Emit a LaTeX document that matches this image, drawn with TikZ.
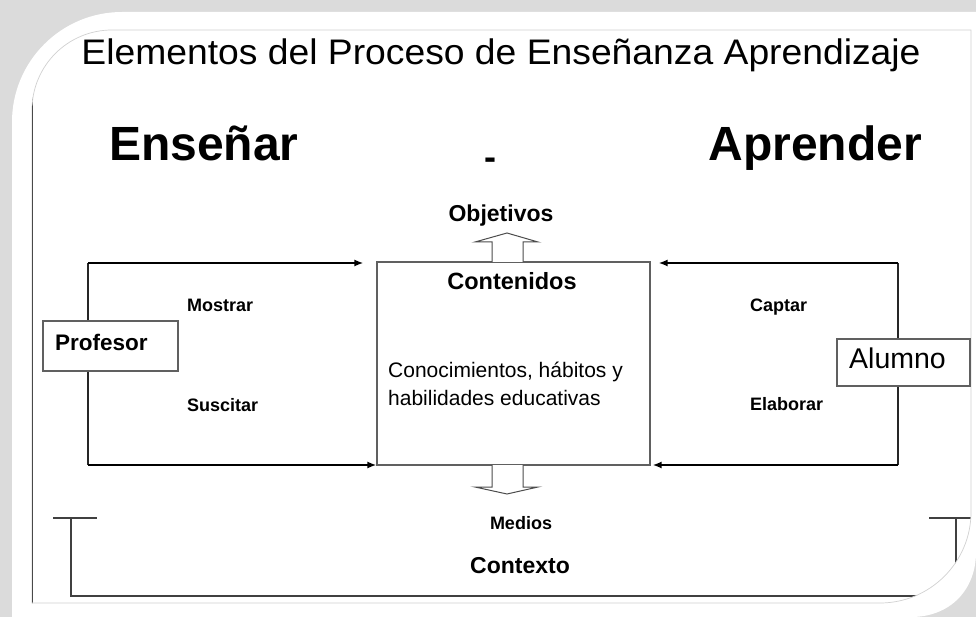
\documentclass[tikz,border=0pt]{standalone}
\usepackage{fontspec}
\setmainfont{Liberation Sans}
\usepackage{graphicx}
\usetikzlibrary{arrows.meta}
\newcommand{\myfs}[1]{\fontsize{#1}{#1}\selectfont}
\definecolor{bggray}{rgb}{0.86,0.86,0.86}
\definecolor{edgegray}{rgb}{0.82,0.82,0.82}
\begin{document}
\begin{tikzpicture}[x=1pt,y=-1pt,
  lbl/.style={inner sep=0pt, anchor=base, text=black},
  boxline/.style={draw=gray!75!black, line width=1.1pt, fill=white, inner sep=0pt},
  arr/.style={draw=black, line width=2pt, -{Latex[length=9pt,width=7pt]}},
  loopline/.style={draw=black!85, line width=1.3pt},
  hollow/.style={draw=gray!60!black, line width=1pt, fill=white, line join=miter},
  bracket/.style={draw=black!75, line width=1.5pt}]
\useasboundingbox (0,0) rectangle (976,617);
% frame
\fill[bggray] (0,0) rectangle (976,617);
\fill[white] (12,617) -- (12,122) .. controls (12,61.3) and (61.3,12) .. (122,12)
  -- (976,12) -- (976,552) .. controls (976,590) and (950,617) .. (911,617) -- cycle;
\begin{scope}
  \clip (32,603) -- (32,110) .. controls (32,65.8) and (67.8,30) .. (112,30)
    -- (971,30) -- (971,512) .. controls (971,562.2) and (930.2,603) .. (880,603) -- cycle;
  \draw[black, line width=1.2pt] (32.6,0) -- (32.6,617);
  \coordinate (bl1) at (53,518);
  \coordinate (bl2) at (97,518);
  \coordinate (blc) at (71,518);
  \coordinate (brc) at (956,518);
  \coordinate (br1) at (929,518);
  \coordinate (br2) at (990,518);
  \draw[bracket] (bl1) -- (bl2);
  \draw[bracket] (blc) -- (71,596) -- (956,596) -- (brc);
  \draw[bracket] (br1) -- (br2);
\end{scope}
\draw[edgegray, line width=0.7pt] (32,603) -- (32,110) .. controls (32,65.8) and (67.8,30) .. (112,30)
    -- (971,30) -- (971,512) .. controls (971,562.2) and (930.2,603) .. (880,603) -- cycle;
% titles
\node[lbl, font=\myfs{35.5}] (title) at (501,65) {\scalebox{1.05}[1]{Elementos del Proceso de Enseñanza Aprendizaje}};
\node[lbl, font=\bfseries\myfs{48}, anchor=base west] (ens) at (109,161) {Enseñar};
\node[lbl, font=\bfseries\myfs{48}, anchor=base east] (apr) at (922,161) {Aprender};
\node[lbl, font=\bfseries\myfs{36}] (dash) at (490,170) {-};
% centre
\node[boxline, minimum width=273pt, minimum height=203pt] (cont) at (513.5,363.5) {};
\node[lbl, font=\bfseries\myfs{23.5}] (conttl) at (512,290) {Contenidos};
\node[lbl, font=\myfs{21}, anchor=base west] (c1) at (388,377) {Conocimientos, hábitos y};
\node[lbl, font=\myfs{21}, anchor=base west] (c2) at (388,405) {habilidades educativas};
\node[lbl, font=\bfseries\myfs{23}] (obj) at (501,222) {Objetivos};
\draw[hollow] (492,262) -- (492,242) -- (475,242) -- (507,233) -- (538,242) -- (523,242) -- (523,262);
\draw[hollow] (492,465) -- (492,487) -- (475,487) -- (507,494) -- (538,487) -- (523,487) -- (523,465);
\node[lbl, font=\bfseries\myfs{18}] (med) at (521,529) {Medios};
\node[lbl, font=\bfseries\myfs{23}] (ctx) at (520,573) {Contexto};
% left loop
\coordinate (pTL) at (88,263);
\coordinate (pBL) at (88,465);
\draw[loopline] (pTL) -- (pBL);
\draw[arr, shorten >=13pt] (pTL) -- (pTL -| cont.west);
\draw[arr] (pBL) -- (pBL -| cont.west);
\node[boxline, minimum width=135pt, minimum height=50pt] (prof) at (110.5,346) {};
\node[lbl, font=\bfseries\myfs{22.5}, anchor=base west] (proft) at (55,350) {Profesor};
\node[lbl, font=\bfseries\myfs{18}, anchor=base west] (mos) at (187,312) {Mostrar};
\node[lbl, font=\bfseries\myfs{18}, anchor=base west] (sus) at (187,411) {Suscitar};
% right loop
\coordinate (aTR) at (898,263);
\coordinate (aBR) at (898,465);
\draw[loopline] (aTR) -- (aBR);
\draw[arr, shorten >=8pt] (aTR) -- (aTR -| cont.east);
\draw[arr, shorten >=2pt] (aBR) -- (aBR -| cont.east);
\node[boxline, minimum width=133pt, minimum height=47pt] (alu) at (903.5,362.5) {};
\node[lbl, font=\myfs{28.5}, anchor=base west] (alut) at (849,368) {Alumno};
\node[lbl, font=\bfseries\myfs{18}, anchor=base west] (cap) at (750,312) {Captar};
\node[lbl, font=\bfseries\myfs{18}, anchor=base west] (ela) at (750,410) {Elaborar};
\end{tikzpicture}
\end{document}
